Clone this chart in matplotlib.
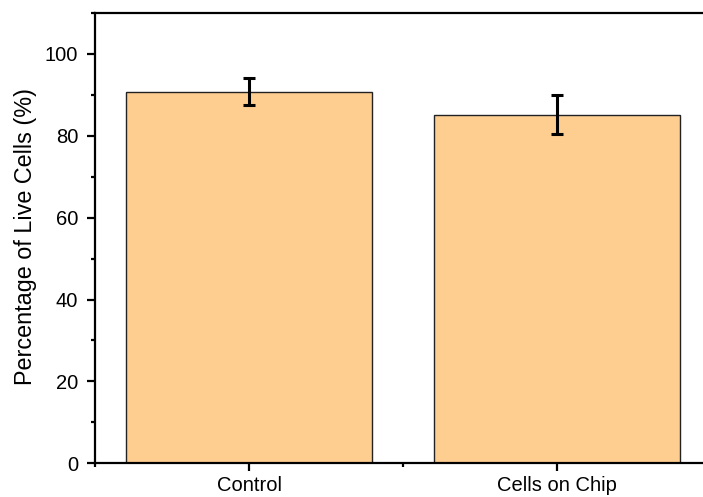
import matplotlib.pyplot as plt
from matplotlib.ticker import MultipleLocator

plt.rcParams['font.family'] = ['Liberation Sans', 'DejaVu Sans']

groups = ['Control', 'Cells on Chip']
live_pct = [90.8, 85.2]
live_err = [3.2, 4.7]
positions = [1, 2]

fig = plt.figure(figsize=(7.03, 4.97), dpi=100)
W, H = 703, 497
ax = fig.add_axes([95 / W, (497 - 463.3) / H, 616 / W, 450.3 / H])

ax.bar(positions, live_pct, width=0.8, color='#FECE91', edgecolor='#222222', linewidth=1.0, zorder=2)
ax.errorbar(positions, live_pct, yerr=live_err, fmt='none', ecolor='black',
            elinewidth=2.2, capsize=4.3, capthick=2.2, zorder=3)

ax.set_xlim(0.5, 2.5)
ax.set_ylim(0, 110)
ax.set_xticks(positions)
ax.set_xticklabels(groups)
ax.xaxis.set_minor_locator(MultipleLocator(0.5))
ax.yaxis.set_minor_locator(MultipleLocator(10))
ax.set_yticks([0, 20, 40, 60, 80, 100])

for s in ['left', 'bottom', 'top']:
    ax.spines[s].set_linewidth(1.6)
ax.spines['right'].set_visible(False)

ax.tick_params(axis='both', which='major', direction='out', length=6, width=1.6, labelsize=14.5)
ax.tick_params(axis='x', which='major', pad=3.5)
ax.tick_params(axis='y', which='major', pad=6)
ax.tick_params(axis='both', which='minor', direction='out', length=3, width=1.6)
ax.tick_params(axis='x', which='both', top=False)

ax.set_ylabel('Percentage of Live Cells (%)', fontsize=16.8)
ax.yaxis.set_label_coords(-0.094, 0.503)

fig.savefig('out.png', dpi=100)
